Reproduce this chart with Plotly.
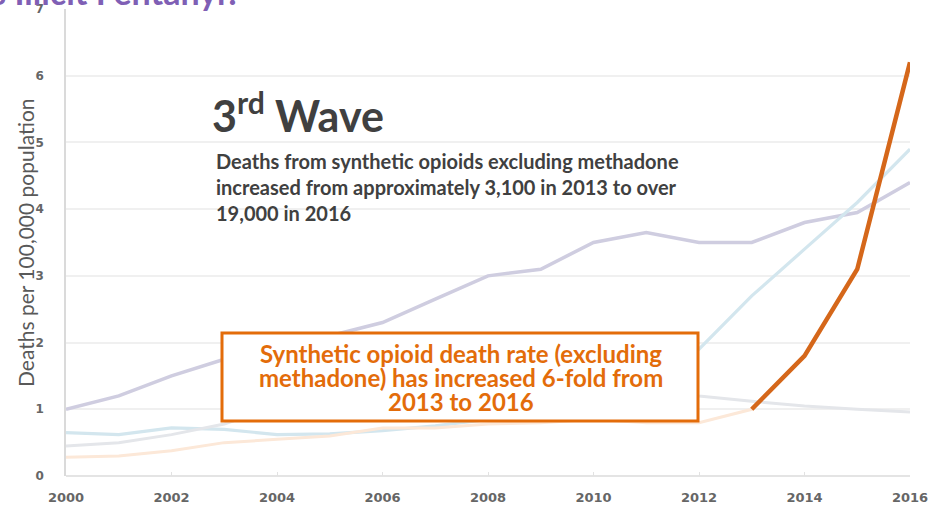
import plotly.graph_objects as go

# Opioid overdose death rates per 100,000 population, by opioid type
years = list(range(2000, 2017))
natural_semisynthetic = [1.0, 1.2, 1.5, 1.75, 1.9, 2.1, 2.3, 2.65, 3.0, 3.1, 3.5, 3.65, 3.5, 3.5, 3.8, 3.95, 4.4]
heroin = [0.65, 0.62, 0.72, 0.7, 0.62, 0.63, 0.68, 0.75, 0.85, 0.95, 1.0, 1.4, 1.9, 2.7, 3.4, 4.1, 4.9]
methadone = [0.45, 0.5, 0.62, 0.78, 1.05, 1.4, 1.75, 1.8, 1.65, 1.5, 1.4, 1.3, 1.2, 1.12, 1.05, 1.0, 0.96]
synthetic_other = [0.28, 0.3, 0.38, 0.5, 0.55, 0.6, 0.72, 0.72, 0.78, 0.8, 0.85, 0.8, 0.8, 1.0, 1.8, 3.1, 6.2]
highlight_from = 2013

x_ticks = list(range(2000, 2017, 2))
y_ticks = list(range(0, 8))

W, H = 932, 506
ML, MR, MT, MB = 66, 22, 9, 30
PW, PH = W - ML - MR, H - MT - MB


def paper_x(px):
    return (px - ML) / PW


def paper_y(py):
    return 1 - (py - MT) / PH


FONT = "Lato"
GRAY_TEXT = "#404040"
ORANGE = "#E36C0A"

fig = go.Figure()

faint = [
    (natural_semisynthetic, "#CFCDE0", 3.5, "Natural and semi-synthetic opioids"),
    (heroin, "#D3E6EE", 3.2, "Heroin"),
    (methadone, "#E4E6EA", 3.0, "Methadone"),
    (synthetic_other, "#FCE8D8", 3.0, "Synthetic opioids other than methadone"),
]
for vals, color, w, name in faint:
    fig.add_trace(go.Scatter(x=years, y=vals, mode="lines", name=name,
                             line=dict(color=color, width=w), hoverinfo="skip"))

hx = [y for y in years if y >= highlight_from]
hy = [v for y, v in zip(years, synthetic_other) if y >= highlight_from]
fig.add_trace(go.Scatter(x=hx, y=hy, mode="lines", name="Synthetic opioids (2013-2016)",
                         line=dict(color="#D5671A", width=4.5)))

shapes = [
    # white backing behind the heading and the description text
    dict(type="rect", xref="paper", yref="paper", layer="between",
         x0=paper_x(157), x1=paper_x(433), y0=paper_y(148), y1=paper_y(60),
         fillcolor="white", line=dict(width=0)),
    dict(type="rect", xref="paper", yref="paper", layer="between",
         x0=paper_x(200), x1=paper_x(687), y0=paper_y(226), y1=paper_y(145),
         fillcolor="white", line=dict(width=0)),
    # callout box
    dict(type="rect", xref="paper", yref="paper", layer="above",
         x0=paper_x(222), x1=paper_x(698), y0=paper_y(421), y1=paper_y(333),
         fillcolor="white", line=dict(color=ORANGE, width=3)),
]

annotations = []

# slide title, mostly above the visible area
annotations.append(dict(xref="paper", yref="paper", x=paper_x(243), y=paper_y(14),
                        xanchor="right", yanchor="bottom", showarrow=False,
                        text="<b>What is Illicit Fentanyl?</b>",
                        font=dict(family=FONT, size=34, color="#7F5FB5")))

annotations.append(dict(xref="paper", yref="paper", x=paper_x(210), y=paper_y(112),
                        xanchor="left", yanchor="middle", showarrow=False,
                        text="<b>3<sup>rd</sup> Wave</b>",
                        font=dict(family=FONT, size=43, color=GRAY_TEXT)))

body = [
    "Deaths from synthetic opioids excluding methadone",
    "increased from approximately 3,100 in 2013 to over",
    "19,000 in 2016",
]
for i, line in enumerate(body):
    annotations.append(dict(xref="paper", yref="paper", x=paper_x(214), y=paper_y(161 + 26 * i),
                            xanchor="left", yanchor="middle", showarrow=False,
                            text=f"<b>{line}</b>",
                            font=dict(family=FONT, size=20, color=GRAY_TEXT)))

callout = [
    "Synthetic opioid death rate (excluding",
    "methadone) has increased 6-fold from",
    "2013 to 2016",
]
for i, line in enumerate(callout):
    annotations.append(dict(xref="paper", yref="paper", x=paper_x(461), y=paper_y(353 + 24 * i),
                            xanchor="center", yanchor="middle", showarrow=False,
                            text=f"<b>{line}</b>",
                            font=dict(family=FONT, size=24, color=ORANGE)))

annotations.append(dict(xref="paper", yref="paper", x=paper_x(25), y=paper_y(243),
                        xanchor="center", yanchor="middle", showarrow=False, textangle=-90,
                        text="Deaths per 100,000 population",
                        font=dict(family=FONT, size=21, color="#595959")))

fig.update_layout(
    width=W, height=H,
    margin=dict(l=ML, r=MR, t=MT, b=MB),
    paper_bgcolor="white", plot_bgcolor="white",
    showlegend=False,
    shapes=shapes,
    annotations=annotations,
    xaxis=dict(range=[2000, 2016], tickvals=x_ticks, ticktext=[str(t) for t in x_ticks],
               automargin=False,
               showgrid=False, zeroline=False, showline=False,
               ticks="inside", ticklen=4, tickcolor="#E2E2E2",
               ticklabelstandoff=12,
               tickfont=dict(family="DejaVu Sans", size=13, color="#666666", weight="bold")),
    yaxis=dict(range=[0, 7], tickvals=y_ticks, ticktext=[str(t) for t in y_ticks],
               automargin=False,
               showgrid=True, gridcolor="#F0F0F0", gridwidth=1.5,
               zeroline=True, zerolinecolor="#E4E4E4", zerolinewidth=1.5,
               showline=True, linecolor="#DADADA", linewidth=1.5,
               ticks="", ticklabelstandoff=18,
               tickfont=dict(family="DejaVu Sans", size=12, color="#666666", weight="bold")),
)

fig.write_html("out.html")
